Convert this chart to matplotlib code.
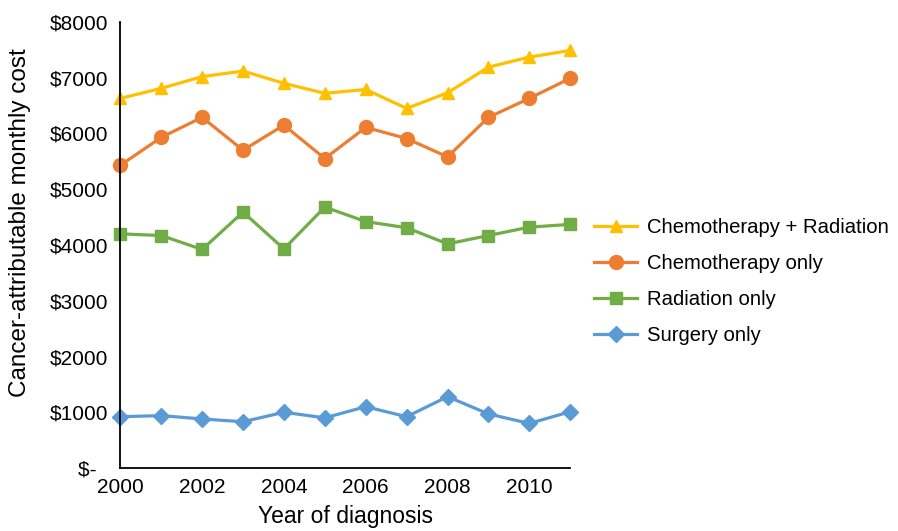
import matplotlib.pyplot as plt
import numpy as np

plt.rcParams['font.family'] = ['Liberation Sans', 'DejaVu Sans']

years = np.arange(2000, 2012)
chemo_rad = [6630, 6810, 7020, 7120, 6900, 6720, 6790, 6450, 6730, 7190, 7370, 7490]
chemo_only = [5430, 5930, 6290, 5700, 6150, 5550, 6110, 5910, 5580, 6290, 6630, 6990]
rad_only = [4200, 4170, 3920, 4590, 3930, 4680, 4420, 4310, 4020, 4170, 4320, 4370]
surgery_only = [920, 940, 880, 830, 1000, 900, 1100, 920, 1280, 970, 800, 1010]

labels = ['Chemotherapy + Radiation', 'Chemotherapy only', 'Radiation only', 'Surgery only']
colors = ['#FFC000', '#ED7D31', '#70AD47', '#5B9BD5']
markers = ['^', 'o', 's', 'D']
msizes = [9, 10, 8, 8]
yticks = [0, 1000, 2000, 3000, 4000, 5000, 6000, 7000, 8000]
yticklabels = ['$-  ', '$1000', '$2000', '$3000', '$4000', '$5000', '$6000', '$7000', '$8000']

fig = plt.figure(figsize=(8.98, 5.31), dpi=100)
ax = fig.add_axes([0.134, 0.1186, 0.501, 0.840])

for vals, lab, c, m, ms in zip([chemo_rad, chemo_only, rad_only, surgery_only], labels, colors, markers, msizes):
    ax.plot(years, vals, color=c, marker=m, markersize=ms, linewidth=2.3, label=lab, clip_on=False)

ax.set_xlim(2000, 2011)
ax.set_ylim(0, 8000)
ax.set_xticks([2000, 2002, 2004, 2006, 2008, 2010])
ax.set_yticks(yticks)
ax.set_yticklabels(yticklabels)
ax.tick_params(length=0, labelsize=15)
ax.tick_params(axis='y', pad=9)
ax.tick_params(axis='x', pad=7)
ax.spines['top'].set_visible(False)
ax.spines['right'].set_visible(False)
ax.spines['left'].set_linewidth(1.3)
ax.spines['bottom'].set_linewidth(1.3)
ax.set_xlabel('Year of diagnosis', fontsize=16.5, labelpad=6)
ax.set_ylabel('Cancer-attributable monthly cost', fontsize=17.5)
ax.yaxis.set_label_coords(-0.198, 0.55)

fig.legend(loc='upper left', bbox_to_anchor=(0.662, 0.589), frameon=False,
           fontsize=14.6, handlelength=2.1, labelspacing=0.84, handletextpad=0.5,
           borderpad=0, borderaxespad=0)

fig.savefig('out.png', dpi=100)
